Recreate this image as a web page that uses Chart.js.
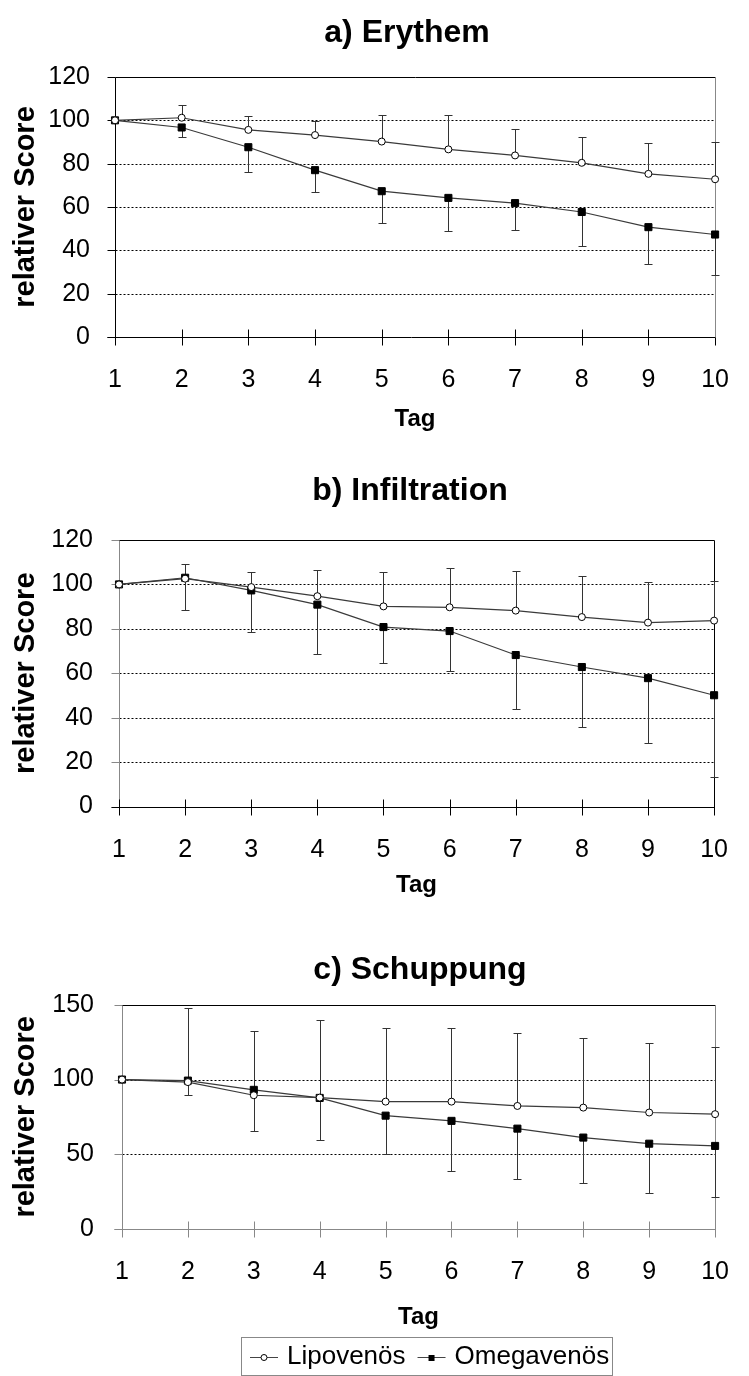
<!DOCTYPE html>
<html>
<head>
<meta charset="utf-8">
<script src="https://cdn.jsdelivr.net/npm/chart.js@4.4.0/dist/chart.umd.min.js"></script>
<style>
  body { margin: 0; background: #fff; }
  .panel { position: absolute; left: 0; width: 749px; }
</style>
</head>
<body>
<div class="panel" style="top:0px"><canvas id="chartA" width="749" height="455"></canvas></div>
<div class="panel" style="top:455px"><canvas id="chartB" width="749" height="445"></canvas></div>
<div class="panel" style="top:900px"><canvas id="chartC" width="749" height="476"></canvas></div>
<script>
const days = ['1', '2', '3', '4', '5', '6', '7', '8', '9', '10'];
const panelTitles = ['a) Erythem', 'b) Infiltration', 'c) Schuppung'];
const seriesNames = ['Lipovenös', 'Omegavenös'];

// a) Erythem
const erythemLipo    = [100, 101.2, 95.6, 93.2, 90.2, 86.6, 83.8, 80.4, 75.3, 72.8];
const erythemLipoSd  = [0, 6.1, 6.3, 6.6, 12.2, 15.7, 12.1, 12.0, 14.2, 17.0];
const erythemOmega   = [100, 96.7, 87.6, 77.0, 67.3, 64.2, 61.8, 57.7, 50.7, 47.3];
const erythemOmegaSd = [0, 4.6, 11.5, 10.3, 14.5, 15.5, 12.4, 15.5, 17.0, 18.7];

// b) Infiltration
const infiltLipo    = [100, 102.6, 98.8, 94.7, 90.1, 89.7, 88.2, 85.3, 82.8, 83.7];
const infiltLipoSd  = [0, 6.7, 6.6, 11.9, 15.4, 17.8, 18.0, 18.3, 18.5, 18.0];
const infiltOmega   = [100, 103.0, 97.3, 90.9, 80.8, 79.0, 68.2, 62.8, 57.8, 50.1];
const infiltOmegaSd = [0, 14.7, 18.9, 22.4, 16.4, 18.0, 24.4, 26.9, 29.3, 36.8];

// c) Schuppung
const schuppLipo    = [100, 98.3, 89.5, 87.9, 85.2, 85.2, 82.3, 81.2, 77.9, 76.8];
const schuppLipoSd  = [0, 49.4, 43.4, 52.2, 49.5, 49.5, 49.2, 47.0, 46.5, 45.3];
const schuppOmega   = [100, 99.3, 93.1, 87.7, 75.8, 72.3, 67.1, 61.1, 57.0, 55.5];
const schuppOmegaSd = [0, 9.8, 27.5, 28.0, 25.9, 33.8, 33.7, 30.2, 33.0, 34.4];

const FONT = "'Liberation Sans', Arial, sans-serif";
Chart.defaults.font.family = FONT;
Chart.defaults.color = '#000';

function line(ctx, x1, y1, x2, y2) {
  ctx.beginPath();
  ctx.moveTo(x1, y1);
  ctx.lineTo(x2, y2);
  ctx.stroke();
}

// dotted grid, tick marks and the box around the plot
const framePlugin = {
  id: 'frame',
  beforeDatasetsDraw(chart, args, opts) {
    const { ctx, chartArea: a, scales: { x, y } } = chart;
    const L = Math.round(a.left) + 0.5, R = Math.round(a.right) + 0.5;
    const T = Math.round(a.top) + 0.5, B = Math.round(a.bottom) + 0.5;
    ctx.save();
    ctx.lineWidth = 1;
    ctx.strokeStyle = '#000';
    ctx.setLineDash([2, 2]);
    y.ticks.forEach(t => {
      if (t.value === y.min || t.value === y.max) return;
      const py = Math.round(y.getPixelForValue(t.value)) + 0.5;
      line(ctx, L, py, R, py);
    });
    ctx.setLineDash([]);
    ctx.strokeStyle = opts.left;
    y.ticks.forEach(t => {
      const py = Math.round(y.getPixelForValue(t.value)) + 0.5;
      line(ctx, L - 8, py, L, py);
    });
    line(ctx, L, T, L, B);
    ctx.strokeStyle = opts.bottom;
    x.ticks.forEach((t, i) => {
      const px = Math.round(x.getPixelForTick(i)) + 0.5;
      line(ctx, px, B - 8, px, B + 8);
    });
    line(ctx, L - 8, B, R, B);
    ctx.strokeStyle = opts.top;
    line(ctx, L, T, R, T);
    ctx.strokeStyle = opts.right;
    line(ctx, R, T, R, B);
    ctx.restore();
  }
};

// one-sided error bars: Lipovenös upwards, Omegavenös downwards
const errorBarPlugin = {
  id: 'errorBars',
  beforeDatasetsDraw(chart) {
    const { ctx, scales: { y } } = chart;
    ctx.save();
    ctx.lineWidth = 1;
    ctx.strokeStyle = '#333';
    chart.data.datasets.forEach((ds, i) => {
      const meta = chart.getDatasetMeta(i);
      ds.sd.forEach((sd, j) => {
        if (!sd) return;
        const pt = meta.data[j];
        const px = Math.round(pt.x) + 0.5;
        const end = Math.round(y.getPixelForValue(ds.data[j] + ds.errDir * sd)) + 0.5;
        line(ctx, px, pt.y, px, end);
        line(ctx, px - 4, end, px + 4, end);
      });
    });
    ctx.restore();
  }
};

// panel title, centred over the plot rather than the canvas
const plotTitlePlugin = {
  id: 'plotTitle',
  afterDraw(chart, args, opts) {
    const { ctx } = chart;
    ctx.save();
    ctx.font = 'bold 32px ' + FONT;
    ctx.fillStyle = '#000';
    ctx.textAlign = 'center';
    ctx.textBaseline = 'middle';
    ctx.fillText(opts.text, opts.x, opts.y);
    ctx.restore();
  }
};

// boxed legend under the last panel
const boxLegendPlugin = {
  id: 'boxLegend',
  afterDraw(chart, args, opts) {
    if (!opts.show) return;
    const { ctx } = chart;
    ctx.save();
    ctx.font = '26px ' + FONT;
    ctx.textBaseline = 'middle';
    ctx.lineWidth = 1;
    ctx.strokeStyle = '#888';
    ctx.strokeRect(opts.x + 0.5, opts.y + 0.5, opts.w, opts.h);
    const cy = opts.y + opts.h / 2 + 1;
    let cx = opts.x + 9;
    chart.data.datasets.forEach(d => {
      ctx.strokeStyle = '#444';
      line(ctx, cx, cy + 0.5, cx + 28, cy + 0.5);
      ctx.strokeStyle = '#000';
      if (d.pointStyle === 'rect') {
        ctx.fillStyle = '#000';
        ctx.fillRect(cx + 11, cy - 2, 6, 6);
      } else {
        ctx.fillStyle = '#fff';
        ctx.beginPath();
        ctx.arc(cx + 14, cy + 0.5, 3, 0, Math.PI * 2);
        ctx.fill();
        ctx.stroke();
      }
      ctx.fillStyle = '#000';
      ctx.fillText(d.label, cx + 37, cy);
      cx += 37 + ctx.measureText(d.label).width + 12;
    });
    ctx.restore();
  }
};

function makeChart(id, title, lipo, lipoSd, omega, omegaSd, yMax, yStep, L) {
  return new Chart(document.getElementById(id), {
    type: 'line',
    data: {
      labels: days,
      datasets: [
        {
          label: seriesNames[0], data: lipo, sd: lipoSd, errDir: 1,
          borderColor: '#3a3a3a', borderWidth: 1.2, tension: 0, clip: false,
          pointStyle: 'circle', pointRadius: 3.5,
          pointBackgroundColor: '#fff', pointBorderColor: '#000', pointBorderWidth: 1
        },
        {
          label: seriesNames[1], data: omega, sd: omegaSd, errDir: -1,
          borderColor: '#3a3a3a', borderWidth: 1.2, tension: 0, clip: false,
          pointStyle: 'rect', pointRadius: 5,
          pointBackgroundColor: '#000', pointBorderColor: '#000', pointBorderWidth: 1
        }
      ]
    },
    options: {
      responsive: false,
      animation: false,
      events: [],
      layout: { padding: { left: 0, top: L.padTop, right: L.padRight, bottom: L.padBottom } },
      plugins: {
        legend: { display: false },
        tooltip: { enabled: false },
        title: { display: false },
        plotTitle: { text: title, x: L.titleX, y: L.titleY },
        frame: L.frame,
        boxLegend: L.legend || { show: false }
      },
      scales: {
        x: {
          grid: { display: false },
          border: { display: false },
          ticks: { font: { size: 25 }, padding: L.xTickPad, maxRotation: 0, autoSkip: false },
          title: {
            display: true, text: 'Tag',
            font: { size: 24, weight: 'bold' },
            padding: { top: 0, bottom: L.tagPad }
          },
          afterFit: s => { s.height = L.xHeight; }
        },
        y: {
          min: 0, max: yMax,
          grid: { display: false },
          border: { display: false },
          ticks: { stepSize: yStep, font: { size: 25 }, padding: L.yTickPad },
          title: {
            display: true, text: 'relativer Score',
            font: { size: 29, weight: 'bold' },
            padding: { top: 9, bottom: 0 }
          },
          afterFit: s => { s.width = L.yWidth; }
        }
      }
    },
    plugins: [framePlugin, errorBarPlugin, plotTitlePlugin, boxLegendPlugin]
  });
}

makeChart('chartA', panelTitles[0], erythemLipo, erythemLipoSd, erythemOmega, erythemOmegaSd, 120, 20, {
  padTop: 77, padRight: 31, padBottom: 0, titleX: 407, titleY: 33,
  yWidth: 115, xHeight: 118, xTickPad: 20, yTickPad: 17, tagPad: 21.6,
  frame: { left: '#000', bottom: '#000', top: '#000', right: '#888' }
});

makeChart('chartB', panelTitles[1], infiltLipo, infiltLipoSd, infiltOmega, infiltOmegaSd, 120, 20, {
  padTop: 85, padRight: 16, padBottom: 0, titleX: 410, titleY: 36,
  yWidth: 119, xHeight: 93.5, xTickPad: 21, yTickPad: 18, tagPad: 0,
  frame: { left: '#888', bottom: '#000', top: '#000', right: '#000' }
});

makeChart('chartC', panelTitles[2], schuppLipo, schuppLipoSd, schuppOmega, schuppOmegaSd, 150, 50, {
  padTop: 105, padRight: 17, padBottom: 40, titleX: 420, titleY: 70,
  yWidth: 122, xHeight: 107.3, xTickPad: 20, yTickPad: 20, tagPad: 4,
  frame: { left: '#888', bottom: '#888', top: '#000', right: '#888' },
  legend: { show: true, x: 241, y: 437, w: 371, h: 38 }
});
</script>
</body>
</html>
